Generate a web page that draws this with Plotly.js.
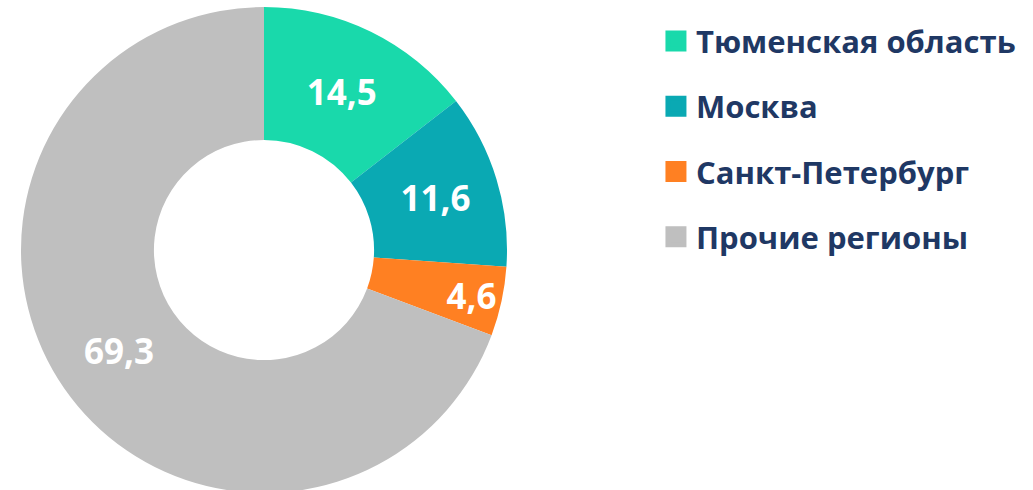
<!DOCTYPE html>
<html><head><meta charset="utf-8">
<script src="https://cdn.plot.ly/plotly-3.0.1.min.js"></script>
<style>html,body{margin:0;padding:0;overflow:hidden;background:#fff}#chart{width:1033px;height:500px}</style>
</head><body><div id="chart"></div>
<script>
const categories = ["Тюменская область", "Москва", "Санкт-Петербург", "Прочие регионы"];
const values = [14.5, 11.6, 4.6, 69.3];
const colors = ["#19D9AB", "#0AA9B3", "#FF8022", "#BFBFBF"];

const W = 1033;
const traces = [{
  type: 'pie',
  labels: categories,
  values: values,
  sort: false,
  direction: 'clockwise',
  rotation: 0,
  hole: 0.453,
  marker: {colors: colors, line: {width: 0}},
  texttemplate: '%{value:.1f}',
  textposition: 'inside',
  insidetextorientation: 'horizontal',
  textfont: {family: 'Open Sans', size: 35, color: '#ffffff', weight: 'bold'},
  showlegend: false,
  domain: {x: [21 / W, 507 / W], y: [0, 1]},
  hoverinfo: 'skip'
}];
categories.forEach((c, i) => {
  traces.push({
    type: 'scatter', mode: 'markers', x: [null], y: [null], name: c,
    legendgroup: 'g' + i,
    marker: {symbol: 'square', size: 16, color: colors[i], line: {width: 5, color: colors[i]}},
    showlegend: true, hoverinfo: 'skip'
  });
});

Plotly.newPlot('chart', traces, {
  width: W, height: 500,
  margin: {l: 0, r: 0, t: 7, b: 7},
  separators: ', ',
  paper_bgcolor: '#fff', plot_bgcolor: '#fff',
  uniformtext: {mode: 'show', minsize: 35},
  xaxis: {visible: false}, yaxis: {visible: false},
  showlegend: true,
  legend: {
    x: 0.635, y: 0.985, xanchor: 'left', yanchor: 'top',
    font: {family: 'Open Sans', size: 31, color: '#1F3864', weight: 'bold'},
    tracegroupgap: 22, bgcolor: 'rgba(0,0,0,0)'
  }
}, {staticPlot: true});
</script></body></html>
